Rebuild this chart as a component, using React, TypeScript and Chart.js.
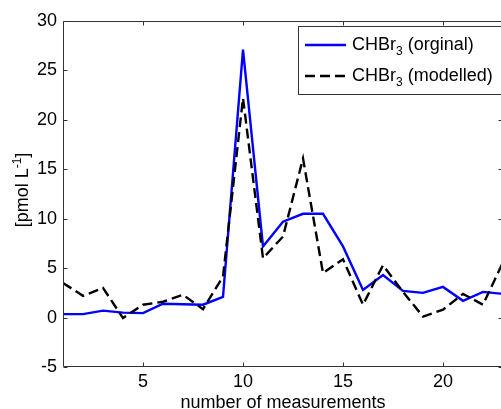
import React, { useEffect, useRef } from "react";
import { Chart, registerables } from "chart.js";

Chart.register(...registerables);

const measurementIndex = [1, 2, 3, 4, 5, 6, 7, 8, 9, 10, 11, 12, 13, 14, 15, 16, 17, 18, 19, 20, 21, 22, 23];
const originalValues = [0.35, 0.35, 0.7, 0.5, 0.45, 1.4, 1.35, 1.3, 2.1, 27.1, 7.2, 9.7, 10.5, 10.5, 7.2, 2.8, 4.3, 2.7, 2.5, 3.1, 1.7, 2.6, 2.4];
const modelledValues = [3.5, 2.2, 3.0, -0.05, 1.3, 1.6, 2.3, 0.85, 4.15, 22.2, 6.0, 8.2, 16.1, 4.5, 5.9, 1.3, 5.3, 2.6, 0.1, 0.8, 2.4, 1.3, 5.6];
const xTickValues = [5, 10, 15, 20];
const yTickValues = [-5, 0, 5, 10, 15, 20, 25, 30];

const FONT = '"Liberation Sans", Arial, Helvetica, sans-serif';

const decorPlugin = {
  id: "decor",
  afterDraw(chart: any) {
    const { ctx, chartArea: a, scales } = chart;
    const xs = scales.x;
    const ys = scales.y;
    ctx.save();
    ctx.strokeStyle = "#333";
    ctx.lineWidth = 1;
    const L = Math.round(a.left) + 0.5;
    const R = Math.round(a.right) - 0.5;
    const T = Math.round(a.top) + 0.5;
    const B = Math.round(a.bottom) - 0.5;
    ctx.beginPath();
    ctx.moveTo(L, T);
    ctx.lineTo(R, T);
    ctx.lineTo(R, B);
    ctx.lineTo(L, B);
    ctx.closePath();
    ctx.stroke();
    const tl = 4;
    ctx.beginPath();
    xTickValues.forEach((v) => {
      const px = Math.round(xs.getPixelForValue(v)) + 0.5;
      ctx.moveTo(px, B);
      ctx.lineTo(px, B - tl);
      ctx.moveTo(px, T);
      ctx.lineTo(px, T + tl);
    });
    yTickValues.forEach((v) => {
      const py = Math.round(ys.getPixelForValue(v)) + 0.5;
      ctx.moveTo(L, py);
      ctx.lineTo(L + tl, py);
      ctx.moveTo(R, py);
      ctx.lineTo(R - tl, py);
    });
    ctx.stroke();

    // x title
    ctx.fillStyle = "#000";
    ctx.font = `18px ${FONT}`;
    ctx.textAlign = "center";
    ctx.textBaseline = "alphabetic";
    ctx.fillText("number of measurements", (a.left + a.right) / 2, a.bottom + 40.5);

    // y title with superscript
    const main1 = "[pmol L";
    const sup = "-1";
    const main2 = "]";
    ctx.font = `18px ${FONT}`;
    const w1 = ctx.measureText(main1).width;
    const w3 = ctx.measureText(main2).width;
    ctx.font = `12px ${FONT}`;
    const w2 = ctx.measureText(sup).width;
    const total = w1 + w2 + w3;
    ctx.save();
    ctx.translate(27.5, (a.top + a.bottom) / 2 - 4);
    ctx.rotate(-Math.PI / 2);
    ctx.textAlign = "left";
    let x0 = -total / 2;
    ctx.font = `18px ${FONT}`;
    ctx.fillText(main1, x0, 0);
    x0 += w1;
    ctx.font = `12px ${FONT}`;
    ctx.fillText(sup, x0, -7);
    x0 += w2;
    ctx.font = `18px ${FONT}`;
    ctx.fillText(main2, x0, 0);
    ctx.restore();

    // legend
    const bx = 298.5;
    const by = 26.5;
    const bw = a.right - bx + 2;
    const bh = 68;
    ctx.fillStyle = "#fff";
    ctx.fillRect(bx, by, bw, bh);
    ctx.strokeStyle = "#333";
    ctx.lineWidth = 1;
    ctx.strokeRect(bx, by, bw, bh);

    const rows = [
      { label: " (orginal)", color: "#0000ff", dash: [] as number[], y: 45, lw: 2.4 },
      { label: " (modelled)", color: "#000000", dash: [10, 5], y: 76, lw: 2.4 },
    ];
    rows.forEach((r) => {
      ctx.beginPath();
      ctx.strokeStyle = r.color;
      ctx.lineWidth = r.lw;
      ctx.setLineDash(r.dash);
      ctx.moveTo(305, r.y);
      ctx.lineTo(346, r.y);
      ctx.stroke();
      ctx.setLineDash([]);
      ctx.fillStyle = "#000";
      ctx.textAlign = "left";
      ctx.textBaseline = "alphabetic";
      let tx = 352;
      const base = r.y + 4.5;
      ctx.font = `18px ${FONT}`;
      ctx.fillText("CHBr", tx, base);
      tx += ctx.measureText("CHBr").width;
      ctx.font = `12px ${FONT}`;
      ctx.fillText("3", tx, base + 5);
      tx += ctx.measureText("3").width;
      ctx.font = `18px ${FONT}`;
      ctx.fillText(r.label, tx, base);
    });
    ctx.restore();
  },
};

export default function App() {
  const canvasRef = useRef<HTMLCanvasElement | null>(null);

  useEffect(() => {
    const canvas = canvasRef.current;
    if (!canvas) return;
    const chart = new Chart(canvas, {
      type: "line",
      data: {
        datasets: [
          {
            label: "CHBr3 (orginal)",
            data: measurementIndex.map((x, i) => ({ x, y: originalValues[i] })),
            borderColor: "#0000ff",
            borderWidth: 2.4,
            pointRadius: 0,
            tension: 0,
            fill: false,
            order: 2,
          },
          {
            label: "CHBr3 (modelled)",
            data: measurementIndex.map((x, i) => ({ x, y: modelledValues[i] })),
            borderColor: "#000000",
            borderWidth: 2.4,
            borderDash: [10, 5],
            pointRadius: 0,
            tension: 0,
            fill: false,
            order: 1,
          },
        ],
      },
      options: {
        animation: false,
        responsive: false,
        maintainAspectRatio: false,
        layout: { padding: { top: 21, right: 27, left: 0, bottom: 0 } },
        plugins: { legend: { display: false }, tooltip: { enabled: false }, title: { display: false } },
        scales: {
          x: {
            type: "linear",
            min: 1,
            max: 23,
            grid: { display: false, drawTicks: false },
            border: { display: false },
            afterBuildTicks: (scale: any) => {
              scale.ticks = xTickValues.map((v) => ({ value: v }));
            },
            afterFit: (scale: any) => {
              scale.height = 42;
            },
            ticks: {
              color: "#000",
              font: { family: FONT, size: 18 },
              padding: 4,
              maxRotation: 0,
              autoSkip: false,
            },
          },
          y: {
            type: "linear",
            min: -5,
            max: 30,
            grid: { display: false, drawTicks: false },
            border: { display: false },
            afterBuildTicks: (scale: any) => {
              scale.ticks = yTickValues.map((v) => ({ value: v }));
            },
            afterFit: (scale: any) => {
              scale.width = 63;
            },
            ticks: {
              color: "#000",
              font: { family: FONT, size: 18 },
              padding: 6,
              autoSkip: false,
            },
          },
        },
      },
      plugins: [decorPlugin],
    });
    return () => chart.destroy();
  }, []);

  return (
    <div style={{ position: "fixed", left: 0, top: 0, width: 530, height: 409, background: "#fff", overflow: "hidden" }}>
      <canvas ref={canvasRef} width={530} height={409} style={{ display: "block", width: 530, height: 409 }} />
    </div>
  );
}
